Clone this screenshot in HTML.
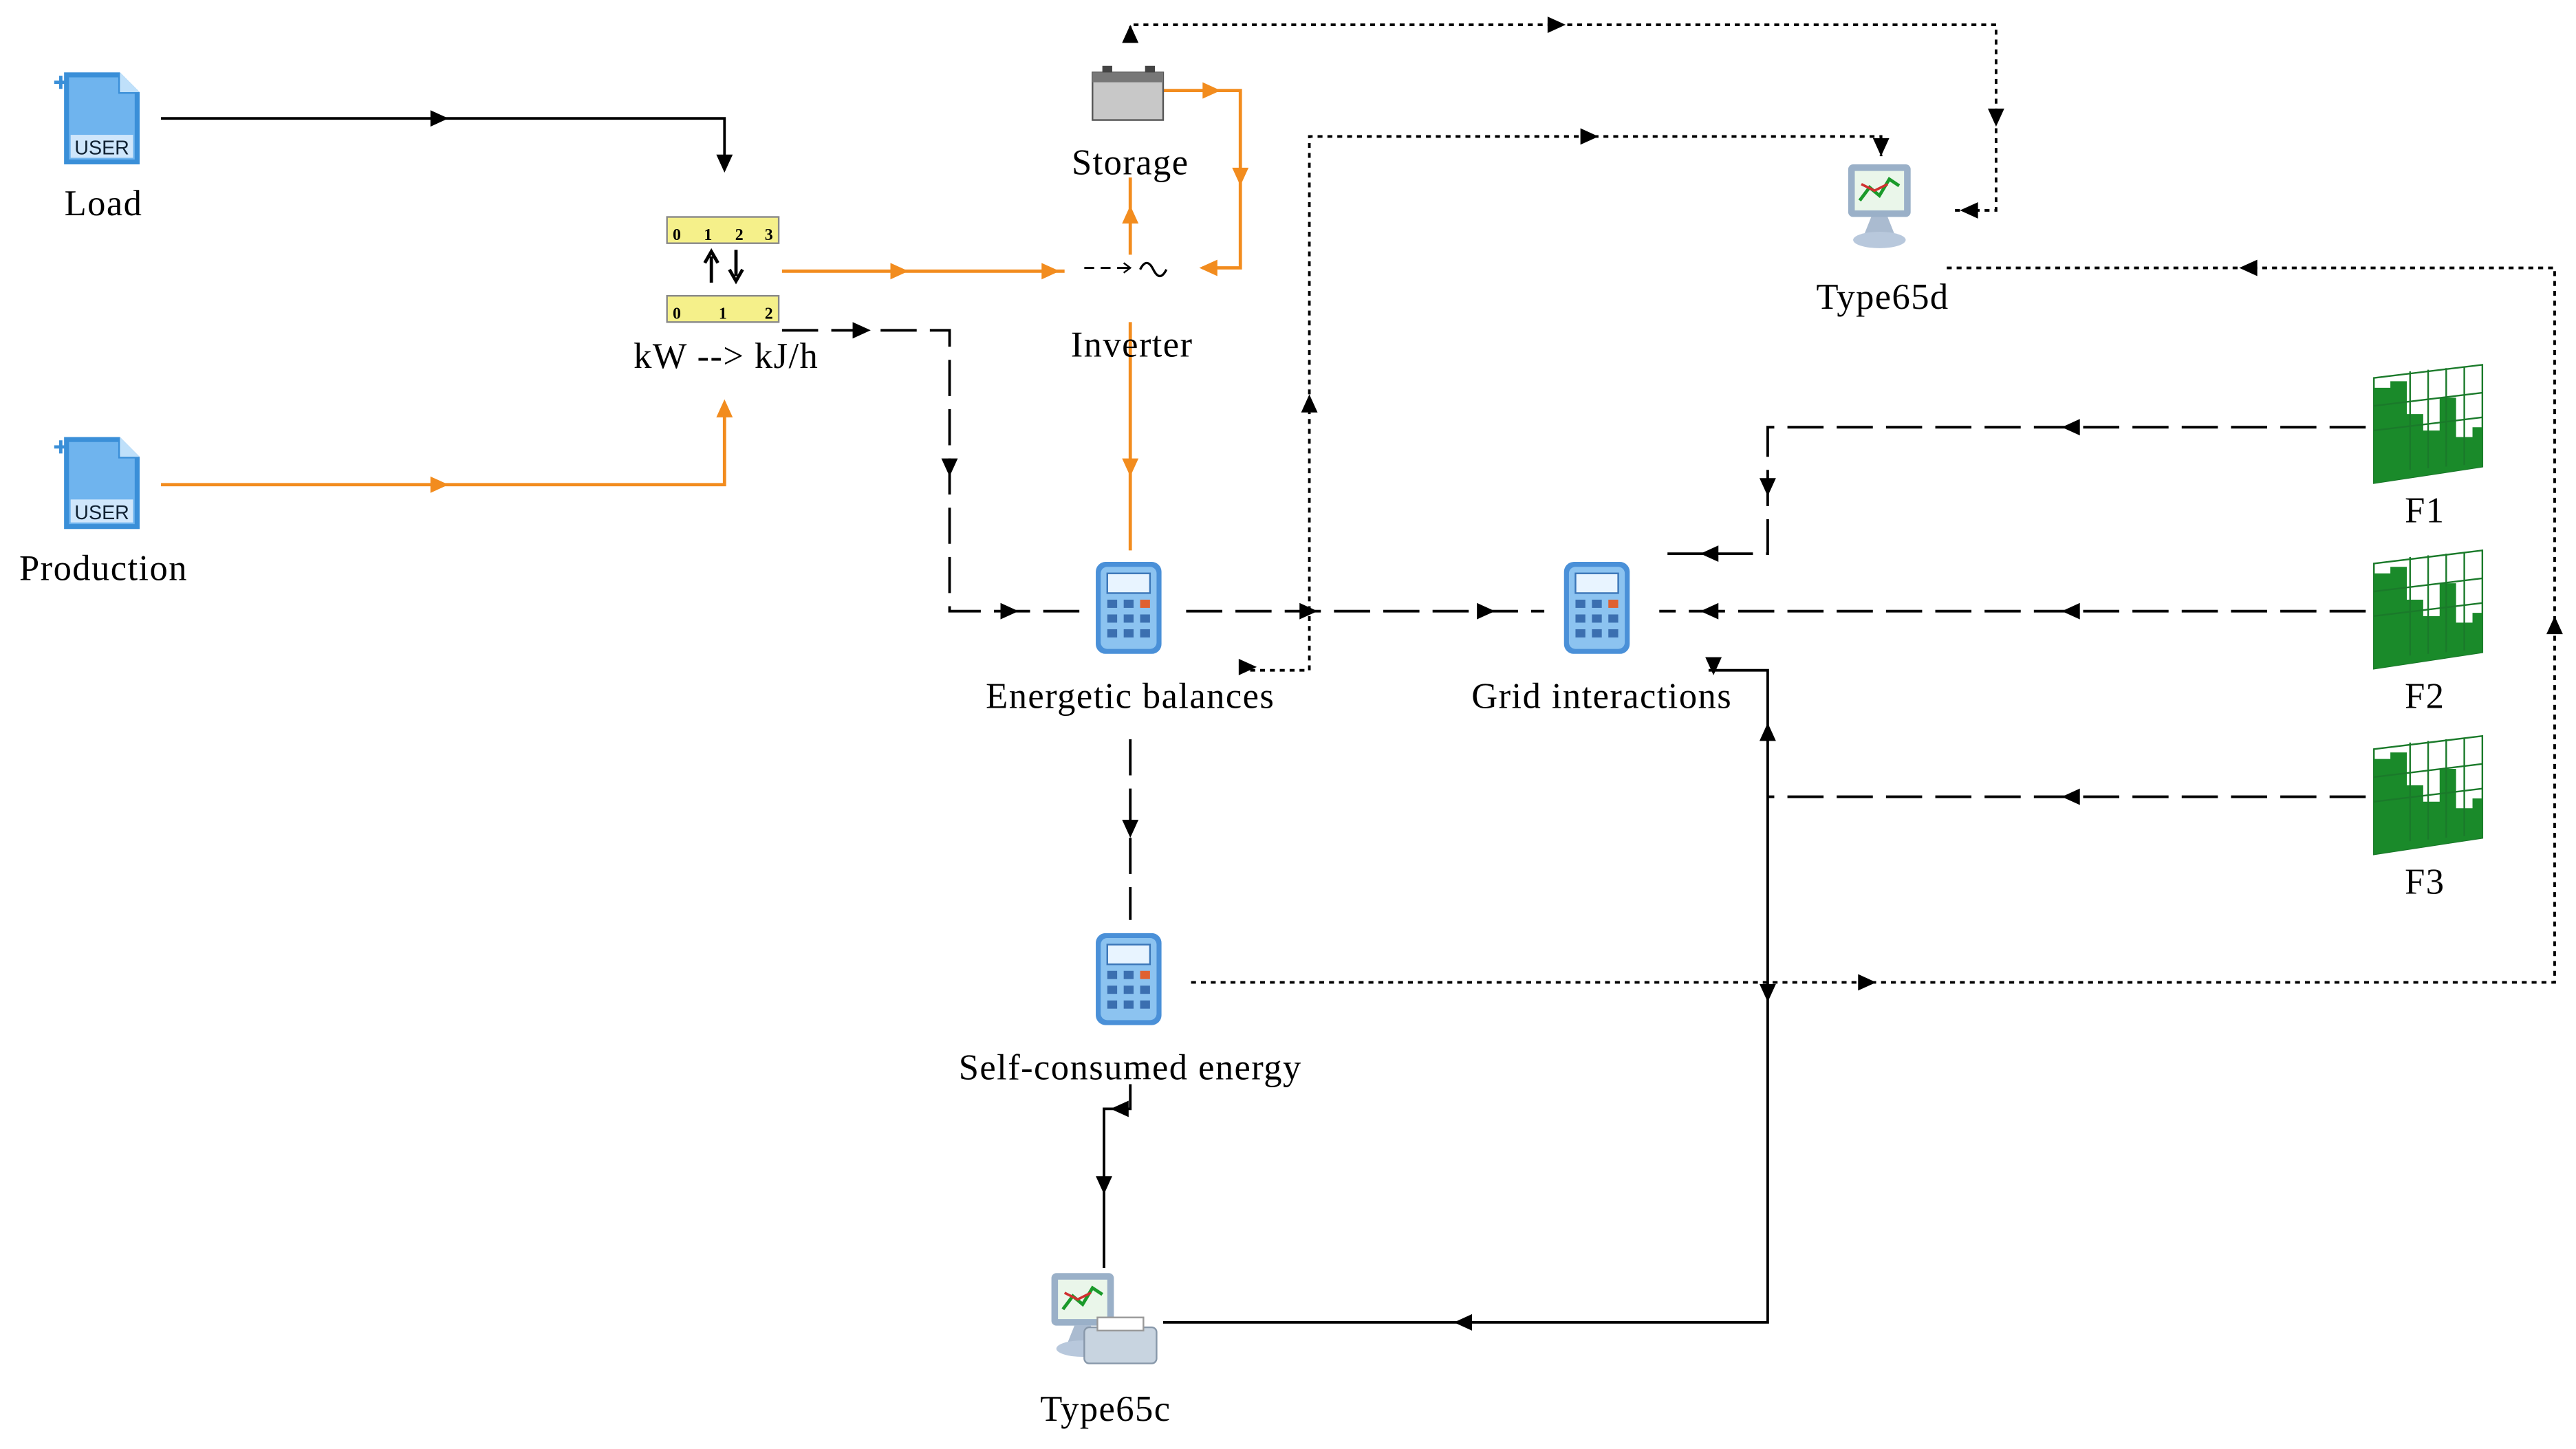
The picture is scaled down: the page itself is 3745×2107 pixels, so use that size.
<!DOCTYPE html>
<html><head><meta charset="utf-8"><style>
html,body{margin:0;padding:0;background:#fff;}
svg{display:block;}
text{font-family:"Liberation Serif",serif;font-size:22px;letter-spacing:0.6px;fill:#000;text-anchor:middle;}
</style></head><body>
<svg width="3745" height="2107" viewBox="0 0 1568 882" xmlns="http://www.w3.org/2000/svg">
<defs>
<g id="arR"><path d="M-6,-5 L5,0 L-6,5 Z" fill="#000"/></g>
<g id="arRo"><path d="M-6,-5 L5,0 L-6,5 Z" fill="#f28c1e"/></g>
<g id="user">
<path d="M0,0 h34 l12,12 v44 h-46 z" fill="#3a8fd8"/>
<path d="M34,0 v12 h12 z" fill="#bfe0fa"/>
<path d="M3,3 h30 v10 h10 v40 h-40z" fill="#6fb4ee"/>
<rect x="4" y="38" width="38" height="14" fill="#cfe6fb"/>
<text x="23" y="50" style="font-family:'Liberation Sans',sans-serif;font-size:12px;letter-spacing:0;fill:#123">USER</text>
<path d="M-6,6 h8 M-2,2 v8" stroke="#3a8fd8" stroke-width="2"/>
</g>
<g id="calc">
<rect x="0" y="0" width="40" height="56" rx="6" fill="#4a90d8"/>
<rect x="3" y="3" width="34" height="50" rx="4" fill="#8cc3f0"/>
<rect x="7" y="7" width="26" height="12" fill="#e8f4ff" stroke="#3b76b8"/>
<g fill="#3b6fb0">
<rect x="7" y="23" width="6" height="5"/><rect x="17" y="23" width="6" height="5"/><rect x="27" y="23" width="6" height="5" fill="#e06030"/>
<rect x="7" y="32" width="6" height="5"/><rect x="17" y="32" width="6" height="5"/><rect x="27" y="32" width="6" height="5"/>
<rect x="7" y="41" width="6" height="5"/><rect x="17" y="41" width="6" height="5"/><rect x="27" y="41" width="6" height="5"/>
</g></g>
<g id="chart">
<path d="M0,8 L66,0 V62 L0,72 Z" fill="#fff" stroke="#1a7a2a"/>
<path d="M0,72 V14 h10 v-4 h10 v20 h10 v10 h10 v-20 h10 v24 h10 v-6 h6 V62 Z" fill="#1a8a2a"/>
<path d="M22,4 V64 M33,3 V63 M44,2 V62 M55,1 V61 M0,25 L66,17 M0,40 L66,32" stroke="#1a7a2a" stroke-width="1" fill="none"/>
</g>
<g id="mon">
<rect x="0" y="0" width="38" height="32" rx="3" fill="#9ab0c8"/>
<rect x="4" y="4" width="30" height="24" fill="#eaf6ea"/>
<path d="M7,22 l6,-8 l6,5 l6,-10 l6,4" stroke="#1a9a2a" stroke-width="2" fill="none"/>
<path d="M8,12 l8,4 l8,-4" stroke="#d03030" stroke-width="1.5" fill="none"/>
<path d="M14,32 h10 l4,10 h-18 z" fill="#aabbd0"/>
<ellipse cx="19" cy="46" rx="16" ry="5" fill="#b8c8dc"/>
</g>
</defs>

<g fill="none" stroke-width="1.6">
<path d="M98,72 H441 V103" stroke="#000"/>
<path d="M98,295 H441 V248" stroke="#f28c1e" stroke-width="2"/>
<path d="M476,165 H648" stroke="#f28c1e" stroke-width="2"/>
<path d="M688,155 V108" stroke="#f28c1e" stroke-width="2"/>
<path d="M708,55 H755 V163 H732" stroke="#f28c1e" stroke-width="2"/>
<path d="M688,196 V335" stroke="#f28c1e" stroke-width="2"/>
<g stroke="#000" stroke-dasharray="22,8">
<path d="M476,201 H578 V372 H660"/>
<path d="M722,372 H940"/>
<path d="M1440,260 H1076 V337 H1010"/>
<path d="M1440,372 H1010"/>
<path d="M1440,485 H1076"/>
<path d="M688,450 V560"/>
</g>
<g stroke="#000" stroke-dasharray="3,3">
<path d="M755,408 H797 V83 H1145 V95"/>
<path d="M688,25 V15 H1215 V128 H1188"/>
<path d="M1185,163 H1555 V598 H722"/>
</g>
<g stroke="#000">
<path d="M1040,408 H1076 V805 H708"/>
<path d="M688,660 V675 H672 V772"/>
</g>
</g>

<use href="#arR" transform="translate(268,72)"/>
<use href="#arR" transform="translate(441,100) rotate(90)"/>
<use href="#arRo" transform="translate(268,295)"/>
<use href="#arRo" transform="translate(441,248) rotate(-90)"/>
<use href="#arRo" transform="translate(548,165)"/>
<use href="#arRo" transform="translate(640,165)"/>
<use href="#arRo" transform="translate(688,130) rotate(-90)"/>
<use href="#arRo" transform="translate(738,55)"/>
<use href="#arRo" transform="translate(755,108) rotate(90)"/>
<use href="#arRo" transform="translate(735,163) rotate(180)"/>
<use href="#arRo" transform="translate(688,285) rotate(90)"/>
<use href="#arR" transform="translate(525,201)"/>
<use href="#arR" transform="translate(578,285) rotate(90)"/>
<use href="#arR" transform="translate(615,372)"/>
<use href="#arR" transform="translate(797,372)"/>
<use href="#arR" transform="translate(905,372)"/>
<use href="#arR" transform="translate(797,245) rotate(-90)"/>
<use href="#arR" transform="translate(968,83)"/>
<use href="#arR" transform="translate(1145,90) rotate(90)"/>
<use href="#arR" transform="translate(688,20) rotate(-90)"/>
<use href="#arR" transform="translate(948,15)"/>
<use href="#arR" transform="translate(1215,72) rotate(90)"/>
<use href="#arR" transform="translate(1198,128) rotate(180)"/>
<use href="#arR" transform="translate(1368,163) rotate(180)"/>
<use href="#arR" transform="translate(1555,380) rotate(-90)"/>
<use href="#arR" transform="translate(1137,598)"/>
<use href="#arR" transform="translate(1260,260) rotate(180)"/>
<use href="#arR" transform="translate(1076,297) rotate(90)"/>
<use href="#arR" transform="translate(1040,337) rotate(180)"/>
<use href="#arR" transform="translate(1260,372) rotate(180)"/>
<use href="#arR" transform="translate(1040,372) rotate(180)"/>
<use href="#arR" transform="translate(1260,485) rotate(180)"/>
<use href="#arR" transform="translate(1076,445) rotate(-90)"/>
<use href="#arR" transform="translate(1043,406) rotate(90)"/>
<use href="#arR" transform="translate(1076,605) rotate(90)"/>
<use href="#arR" transform="translate(890,805) rotate(180)"/>
<use href="#arR" transform="translate(688,505) rotate(90)"/>
<use href="#arR" transform="translate(681,675) rotate(180)"/>
<use href="#arR" transform="translate(672,722) rotate(90)"/>
<use href="#arR" transform="translate(760,406)"/>

<use href="#user" transform="translate(39,44)"/>
<use href="#user" transform="translate(39,266)"/>
<rect x="406" y="132" width="68" height="16" fill="#f5f08a" stroke="#888"/>
<rect x="406" y="180" width="68" height="16" fill="#f5f08a" stroke="#888"/>
<g>
<text x="412" y="146" style="font-size:10px;font-weight:bold;letter-spacing:0">0</text><text x="431" y="146" style="font-size:10px;font-weight:bold;letter-spacing:0">1</text><text x="450" y="146" style="font-size:10px;font-weight:bold;letter-spacing:0">2</text><text x="468" y="146" style="font-size:10px;font-weight:bold;letter-spacing:0">3</text>
<text x="412" y="194" style="font-size:10px;font-weight:bold;letter-spacing:0">0</text><text x="440" y="194" style="font-size:10px;font-weight:bold;letter-spacing:0">1</text><text x="468" y="194" style="font-size:10px;font-weight:bold;letter-spacing:0">2</text>
</g>
<path d="M433,172 V156 M429,160 L433,153 L437,160 M448,152 V168 M444,164 L448,171 L452,164" stroke="#000" stroke-width="2" fill="none"/>
<rect x="665" y="44" width="43" height="29" fill="#c8c8c8" stroke="#555"/>
<rect x="665" y="44" width="43" height="6" fill="#777"/>
<rect x="671" y="40" width="6" height="4" fill="#444"/><rect x="697" y="40" width="6" height="4" fill="#444"/>
<path d="M660,163 h6 M670,163 h6 M680,163 h8" stroke="#000" stroke-width="1.2"/>
<path d="M684,160 l4,3 l-4,3" fill="none" stroke="#000"/>
<path d="M694,164 q4,-8 8,0 q4,8 8,0" fill="none" stroke="#000" stroke-width="1.4"/>
<use href="#mon" transform="translate(1125,100)"/>
<use href="#chart" transform="translate(1445,222)"/>
<use href="#chart" transform="translate(1445,335)"/>
<use href="#chart" transform="translate(1445,448)"/>
<use href="#calc" transform="translate(667,342)"/>
<use href="#calc" transform="translate(952,342)"/>
<use href="#calc" transform="translate(667,568)"/>
<use href="#mon" transform="translate(640,775)"/>
<rect x="660" y="808" width="44" height="22" rx="3" fill="#c8d4e0" stroke="#8898aa"/>
<rect x="668" y="802" width="28" height="8" fill="#fff" stroke="#999"/>

<text x="63" y="131">Load</text>
<text x="63" y="353">Production</text>
<text x="442" y="224">kW --&gt; kJ/h</text>
<text x="688" y="106">Storage</text>
<text x="689" y="217">Inverter</text>
<text x="1146" y="188">Type65d</text>
<text x="1476" y="318">F1</text>
<text x="1476" y="431">F2</text>
<text x="1476" y="544">F3</text>
<text x="688" y="431">Energetic balances</text>
<text x="975" y="431">Grid interactions</text>
<text x="688" y="657">Self-consumed energy</text>
<text x="673" y="865">Type65c</text>
</svg>
</body></html>
